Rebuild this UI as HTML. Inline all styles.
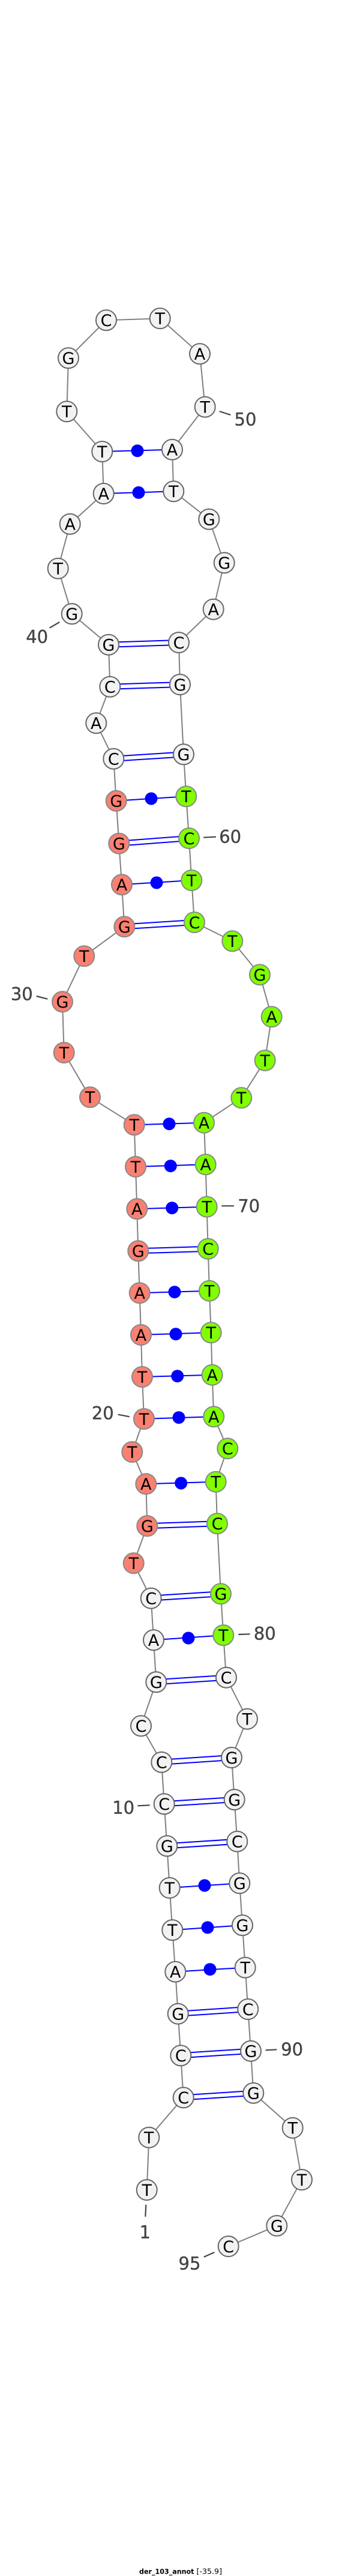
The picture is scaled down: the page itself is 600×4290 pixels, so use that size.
<!DOCTYPE html>
<html>
<head>
<meta charset="utf-8">
<style>
html,body{margin:0;padding:0;background:#fff;width:600px;height:4290px;overflow:hidden}
svg{display:block}
.bb{fill:none;stroke:#808080;stroke-width:2}
.p line{stroke:#0000ff;stroke-width:2}
.d circle{fill:#0000ff}
.n text{font:27px "DejaVu Sans",sans-serif;text-anchor:middle;fill:#000}
.w circle{fill:#f2f2f2;stroke:#666;stroke-width:2}
.s circle{fill:#fa8072;stroke:#888;stroke-width:2}
.g circle{fill:#7fff00;stroke:#888;stroke-width:2}
.l text{font:29px "DejaVu Sans",sans-serif;text-anchor:middle;fill:#444;stroke:#444;stroke-width:.4}
.l line{stroke:#444;stroke-width:2.2}
.t{font-family:"DejaVu Sans",sans-serif;fill:#000}
</style>
</head>
<body>
<svg width="600" height="4290" viewBox="0 0 600 4290" xmlns="http://www.w3.org/2000/svg">
<polyline class="bb" points="244.7,3647 248.3,3559.7 305.7,3493.3 301.3,3423.3 296.7,3353.7 292.3,3283.7 287.3,3214.3 282.7,3144 278.3,3074.3 273.7,3004.3 269.3,2934.7 235,2874.3 260.3,2801.3 256,2731.3 251.7,2661.7 222.7,2603.3 245.3,2541.3 243.3,2471.3 220.3,2418 240,2363 237,2293 235,2223 232.7,2153.3 230.3,2083.3 228.3,2013.3 226,1943 223.7,1873.3 150,1827.3 106.7,1753 104,1668.3 140.3,1592.3 207.3,1543.3 203,1473.3 198.3,1404.7 193.7,1333.7 189.3,1263.7 160.3,1204.3 183.3,1143.7 181,1073.7 119.7,1022.3 96.7,946.7 116.7,872.7 172.7,822 170.3,752 111.3,685.3 114,596.3 177,533.3 266.7,530.3 333,589.3 341.7,677.7 287,748.7 289.3,818.3 348.3,864.7 373.7,937.3 355.7,1014.7 298,1070 300,1140 306,1256.3 310.3,1326.3 315,1396 319.3,1466 324,1536 387.3,1567.3 433,1623.3 452.7,1693.3 441.7,1766 402.3,1828.3 340,1869.7 342.7,1939.3 344.7,2009.7 346.7,2079.7 349,2149.7 351.7,2219.3 353.7,2289.7 356.3,2359.3 379.3,2412.3 359.7,2467.7 362,2537.3 368,2654.3 372.3,2723.3 377,2793.7 412,2862.7 386,2927 390.7,2997 395.3,3066.7 399.3,3136.3 404,3206.3 408.7,3276.7 413.3,3346 418,3415.7 422.3,3485.7 487.7,3543.7 503,3630 461.3,3706.7 380.7,3741"/>
<g class="p">
<line x1="170.3" y1="752" x2="287" y2="748.7"/>
<line x1="172.7" y1="822" x2="289.3" y2="818.3"/>
<line x1="181" y1="1069.7" x2="298" y2="1066"/><line x1="181" y1="1077.7" x2="298" y2="1074"/>
<line x1="183.3" y1="1139.7" x2="300" y2="1136"/><line x1="183.3" y1="1147.7" x2="300" y2="1144"/>
<line x1="189.3" y1="1259.7" x2="306" y2="1252.3"/><line x1="189.3" y1="1267.7" x2="306" y2="1260.3"/>
<line x1="193.7" y1="1333.7" x2="310.3" y2="1326.3"/>
<line x1="198.3" y1="1400.7" x2="315" y2="1392"/><line x1="198.3" y1="1408.7" x2="315" y2="1400"/>
<line x1="203" y1="1473.3" x2="319.3" y2="1466"/>
<line x1="207.3" y1="1539.3" x2="324" y2="1532"/><line x1="207.3" y1="1547.3" x2="324" y2="1540"/>
<line x1="223.7" y1="1873.3" x2="340" y2="1869.7"/>
<line x1="226" y1="1943" x2="342.7" y2="1939.3"/>
<line x1="228.3" y1="2013.3" x2="344.7" y2="2009.7"/>
<line x1="230.3" y1="2079.3" x2="346.7" y2="2075.7"/><line x1="230.3" y1="2087.3" x2="346.7" y2="2083.7"/>
<line x1="232.7" y1="2153.3" x2="349" y2="2149.7"/>
<line x1="235" y1="2223" x2="351.7" y2="2219.3"/>
<line x1="237" y1="2293" x2="353.7" y2="2289.7"/>
<line x1="240" y1="2363" x2="356.3" y2="2359.3"/>
<line x1="243.3" y1="2471.3" x2="359.7" y2="2467.7"/>
<line x1="245.3" y1="2537.3" x2="362" y2="2533.3"/><line x1="245.3" y1="2545.3" x2="362" y2="2541.3"/>
<line x1="251.7" y1="2657.7" x2="368" y2="2650.3"/><line x1="251.7" y1="2665.7" x2="368" y2="2658.3"/>
<line x1="256" y1="2731.3" x2="372.3" y2="2723.3"/>
<line x1="260.3" y1="2797.3" x2="377" y2="2789.7"/><line x1="260.3" y1="2805.3" x2="377" y2="2797.7"/>
<line x1="269.3" y1="2930.7" x2="386" y2="2923"/><line x1="269.3" y1="2938.7" x2="386" y2="2931"/>
<line x1="273.7" y1="3000.3" x2="390.7" y2="2993"/><line x1="273.7" y1="3008.3" x2="390.7" y2="3001"/>
<line x1="278.3" y1="3070.3" x2="395.3" y2="3062.7"/><line x1="278.3" y1="3078.3" x2="395.3" y2="3070.7"/>
<line x1="282.7" y1="3144" x2="399.3" y2="3136.3"/>
<line x1="287.3" y1="3214.3" x2="404" y2="3206.3"/>
<line x1="292.3" y1="3283.7" x2="408.7" y2="3276.7"/>
<line x1="296.7" y1="3349.7" x2="413.3" y2="3342"/><line x1="296.7" y1="3357.7" x2="413.3" y2="3350"/>
<line x1="301.3" y1="3419.3" x2="418" y2="3411.7"/><line x1="301.3" y1="3427.3" x2="418" y2="3419.7"/>
<line x1="305.7" y1="3489.3" x2="422.3" y2="3481.7"/><line x1="305.7" y1="3497.3" x2="422.3" y2="3489.7"/>
</g>
<g class="d">
<circle cx="229" cy="750.7" r="10.5"/><circle cx="231" cy="820.3" r="10.5"/><circle cx="252" cy="1330" r="10.5"/><circle cx="261" cy="1470" r="10.5"/><circle cx="282" cy="1871.7" r="10.5"/><circle cx="284.3" cy="1941.7" r="10.5"/><circle cx="286.7" cy="2011.7" r="10.5"/><circle cx="291" cy="2151.7" r="10.5"/><circle cx="293" cy="2221.7" r="10.5"/><circle cx="295.7" cy="2291.7" r="10.5"/><circle cx="298" cy="2360.7" r="10.5"/><circle cx="301.7" cy="2470" r="10.5"/><circle cx="314" cy="2728" r="10.5"/><circle cx="341" cy="3140" r="10.5"/><circle cx="346" cy="3210" r="10.5"/><circle cx="350" cy="3279.7" r="10.5"/>
</g>
<g class="n w">
<circle cx="244.7" cy="3647" r="17"/><text x="244.7" y="3656.8">T</text>
<circle cx="248.3" cy="3559.7" r="17"/><text x="248.3" y="3569.5">T</text>
<circle cx="305.7" cy="3493.3" r="17"/><text x="305.7" y="3503.1">C</text>
<circle cx="301.3" cy="3423.3" r="17"/><text x="301.3" y="3433.1">C</text>
<circle cx="296.7" cy="3353.7" r="17"/><text x="296.7" y="3363.5">G</text>
<circle cx="292.3" cy="3283.7" r="17"/><text x="292.3" y="3293.5">A</text>
<circle cx="287.3" cy="3214.3" r="17"/><text x="287.3" y="3224.1">T</text>
<circle cx="282.7" cy="3144" r="17"/><text x="282.7" y="3153.8">T</text>
<circle cx="278.3" cy="3074.3" r="17"/><text x="278.3" y="3084.1">G</text>
<circle cx="273.7" cy="3004.3" r="17"/><text x="273.7" y="3014.1">C</text>
<circle cx="269.3" cy="2934.7" r="17"/><text x="269.3" y="2944.5">C</text>
<circle cx="235" cy="2874.3" r="17"/><text x="235" y="2884.1">C</text>
<circle cx="260.3" cy="2801.3" r="17"/><text x="260.3" y="2811.1">G</text>
<circle cx="256" cy="2731.3" r="17"/><text x="256" y="2741.1">A</text>
<circle cx="251.7" cy="2661.7" r="17"/><text x="251.7" y="2671.5">C</text>
<circle cx="189.3" cy="1263.7" r="17"/><text x="189.3" y="1273.5">C</text>
<circle cx="160.3" cy="1204.3" r="17"/><text x="160.3" y="1214.1">A</text>
<circle cx="183.3" cy="1143.7" r="17"/><text x="183.3" y="1153.5">C</text>
<circle cx="181" cy="1073.7" r="17"/><text x="181" y="1083.5">G</text>
<circle cx="119.7" cy="1022.3" r="17"/><text x="119.7" y="1032.1">G</text>
<circle cx="96.7" cy="946.7" r="17"/><text x="96.7" y="956.5">T</text>
<circle cx="116.7" cy="872.7" r="17"/><text x="116.7" y="882.5">A</text>
<circle cx="172.7" cy="822" r="17"/><text x="172.7" y="831.8">A</text>
<circle cx="170.3" cy="752" r="17"/><text x="170.3" y="761.8">T</text>
<circle cx="111.3" cy="685.3" r="17"/><text x="111.3" y="695.1">T</text>
<circle cx="114" cy="596.3" r="17"/><text x="114" y="606.1">G</text>
<circle cx="177" cy="533.3" r="17"/><text x="177" y="543.1">C</text>
<circle cx="266.7" cy="530.3" r="17"/><text x="266.7" y="540.1">T</text>
<circle cx="333" cy="589.3" r="17"/><text x="333" y="599.1">A</text>
<circle cx="341.7" cy="677.7" r="17"/><text x="341.7" y="687.5">T</text>
<circle cx="287" cy="748.7" r="17"/><text x="287" y="758.5">A</text>
<circle cx="289.3" cy="818.3" r="17"/><text x="289.3" y="828.1">T</text>
<circle cx="348.3" cy="864.7" r="17"/><text x="348.3" y="874.5">G</text>
<circle cx="373.7" cy="937.3" r="17"/><text x="373.7" y="947.1">G</text>
<circle cx="355.7" cy="1014.7" r="17"/><text x="355.7" y="1024.5">A</text>
<circle cx="298" cy="1070" r="17"/><text x="298" y="1079.8">C</text>
<circle cx="300" cy="1140" r="17"/><text x="300" y="1149.8">G</text>
<circle cx="306" cy="1256.3" r="17"/><text x="306" y="1266.1">G</text>
<circle cx="377" cy="2793.7" r="17"/><text x="377" y="2803.5">C</text>
<circle cx="412" cy="2862.7" r="17"/><text x="412" y="2872.5">T</text>
<circle cx="386" cy="2927" r="17"/><text x="386" y="2936.8">G</text>
<circle cx="390.7" cy="2997" r="17"/><text x="390.7" y="3006.8">G</text>
<circle cx="395.3" cy="3066.7" r="17"/><text x="395.3" y="3076.5">C</text>
<circle cx="399.3" cy="3136.3" r="17"/><text x="399.3" y="3146.1">G</text>
<circle cx="404" cy="3206.3" r="17"/><text x="404" y="3216.1">G</text>
<circle cx="408.7" cy="3276.7" r="17"/><text x="408.7" y="3286.5">T</text>
<circle cx="413.3" cy="3346" r="17"/><text x="413.3" y="3355.8">C</text>
<circle cx="418" cy="3415.7" r="17"/><text x="418" y="3425.5">G</text>
<circle cx="422.3" cy="3485.7" r="17"/><text x="422.3" y="3495.5">G</text>
<circle cx="487.7" cy="3543.7" r="17"/><text x="487.7" y="3553.5">T</text>
<circle cx="503" cy="3630" r="17"/><text x="503" y="3639.8">T</text>
<circle cx="461.3" cy="3706.7" r="17"/><text x="461.3" y="3716.5">G</text>
<circle cx="380.7" cy="3741" r="17"/><text x="380.7" y="3750.8">C</text>
</g>
<g class="n s">
<circle cx="222.7" cy="2603.3" r="17"/><text x="222.7" y="2613.1">T</text>
<circle cx="245.3" cy="2541.3" r="17"/><text x="245.3" y="2551.1">G</text>
<circle cx="243.3" cy="2471.3" r="17"/><text x="243.3" y="2481.1">A</text>
<circle cx="220.3" cy="2418" r="17"/><text x="220.3" y="2427.8">T</text>
<circle cx="240" cy="2363" r="17"/><text x="240" y="2372.8">T</text>
<circle cx="237" cy="2293" r="17"/><text x="237" y="2302.8">T</text>
<circle cx="235" cy="2223" r="17"/><text x="235" y="2232.8">A</text>
<circle cx="232.7" cy="2153.3" r="17"/><text x="232.7" y="2163.1">A</text>
<circle cx="230.3" cy="2083.3" r="17"/><text x="230.3" y="2093.1">G</text>
<circle cx="228.3" cy="2013.3" r="17"/><text x="228.3" y="2023.1">A</text>
<circle cx="226" cy="1943" r="17"/><text x="226" y="1952.8">T</text>
<circle cx="223.7" cy="1873.3" r="17"/><text x="223.7" y="1883.1">T</text>
<circle cx="150" cy="1827.3" r="17"/><text x="150" y="1837.1">T</text>
<circle cx="106.7" cy="1753" r="17"/><text x="106.7" y="1762.8">T</text>
<circle cx="104" cy="1668.3" r="17"/><text x="104" y="1678.1">G</text>
<circle cx="140.3" cy="1592.3" r="17"/><text x="140.3" y="1602.1">T</text>
<circle cx="207.3" cy="1543.3" r="17"/><text x="207.3" y="1553.1">G</text>
<circle cx="203" cy="1473.3" r="17"/><text x="203" y="1483.1">A</text>
<circle cx="198.3" cy="1404.7" r="17"/><text x="198.3" y="1414.5">G</text>
<circle cx="193.7" cy="1333.7" r="17"/><text x="193.7" y="1343.5">G</text>
</g>
<g class="n g">
<circle cx="310.3" cy="1326.3" r="17"/><text x="310.3" y="1336.1">T</text>
<circle cx="315" cy="1396" r="17"/><text x="315" y="1405.8">C</text>
<circle cx="319.3" cy="1466" r="17"/><text x="319.3" y="1475.8">T</text>
<circle cx="324" cy="1536" r="17"/><text x="324" y="1545.8">C</text>
<circle cx="387.3" cy="1567.3" r="17"/><text x="387.3" y="1577.1">T</text>
<circle cx="433" cy="1623.3" r="17"/><text x="433" y="1633.1">G</text>
<circle cx="452.7" cy="1693.3" r="17"/><text x="452.7" y="1703.1">A</text>
<circle cx="441.7" cy="1766" r="17"/><text x="441.7" y="1775.8">T</text>
<circle cx="402.3" cy="1828.3" r="17"/><text x="402.3" y="1838.1">T</text>
<circle cx="340" cy="1869.7" r="17"/><text x="340" y="1879.5">A</text>
<circle cx="342.7" cy="1939.3" r="17"/><text x="342.7" y="1949.1">A</text>
<circle cx="344.7" cy="2009.7" r="17"/><text x="344.7" y="2019.5">T</text>
<circle cx="346.7" cy="2079.7" r="17"/><text x="346.7" y="2089.5">C</text>
<circle cx="349" cy="2149.7" r="17"/><text x="349" y="2159.5">T</text>
<circle cx="351.7" cy="2219.3" r="17"/><text x="351.7" y="2229.1">T</text>
<circle cx="353.7" cy="2289.7" r="17"/><text x="353.7" y="2299.5">A</text>
<circle cx="356.3" cy="2359.3" r="17"/><text x="356.3" y="2369.1">A</text>
<circle cx="379.3" cy="2412.3" r="17"/><text x="379.3" y="2422.1">C</text>
<circle cx="359.7" cy="2467.7" r="17"/><text x="359.7" y="2477.5">T</text>
<circle cx="362" cy="2537.3" r="17"/><text x="362" y="2547.1">C</text>
<circle cx="368" cy="2654.3" r="17"/><text x="368" y="2664.1">G</text>
<circle cx="372.3" cy="2723.3" r="17"/><text x="372.3" y="2733.1">T</text>
</g>
<g class="l">
<line x1="365.7" y1="685" x2="384.3" y2="691"/><text x="409" y="708.3">50</text>
<line x1="82.7" y1="1045.7" x2="99.3" y2="1036"/><text x="61.7" y="1070.7">40</text>
<line x1="339.3" y1="1394.7" x2="360" y2="1393.7"/><text x="383.7" y="1403.4">60</text>
<line x1="60.7" y1="1659" x2="79.3" y2="1663.7"/><text x="36.3" y="1665.7">30</text>
<line x1="369.3" y1="2008.3" x2="390" y2="2008.3"/><text x="414.7" y="2018.4">70</text>
<line x1="196.7" y1="2355.7" x2="215.7" y2="2359.3"/><text x="171.3" y="2363.4">20</text>
<line x1="397.3" y1="2722" x2="416.7" y2="2721.3"/><text x="441.3" y="2730.4">80</text>
<line x1="229.3" y1="3007.3" x2="249.7" y2="3006.3"/><text x="205.7" y="3020.4">10</text>
<line x1="442.7" y1="3414.3" x2="461.3" y2="3413.3"/><text x="486.7" y="3423">90</text>
<line x1="339.7" y1="3758.7" x2="357.3" y2="3751"/><text x="316" y="3779.4">95</text>
<line x1="243.3" y1="3671.7" x2="242.3" y2="3691.7"/><text x="241.7" y="3727.7">1</text>
</g>
<text class="t" x="232" y="4286.5" font-size="11.5" font-weight="bold" textLength="91.5" lengthAdjust="spacingAndGlyphs">der_103_annot</text>
<text class="t" x="327.5" y="4286.5" font-size="12" textLength="42.5" lengthAdjust="spacingAndGlyphs">[-35.9]</text>
</svg>
</body>
</html>
